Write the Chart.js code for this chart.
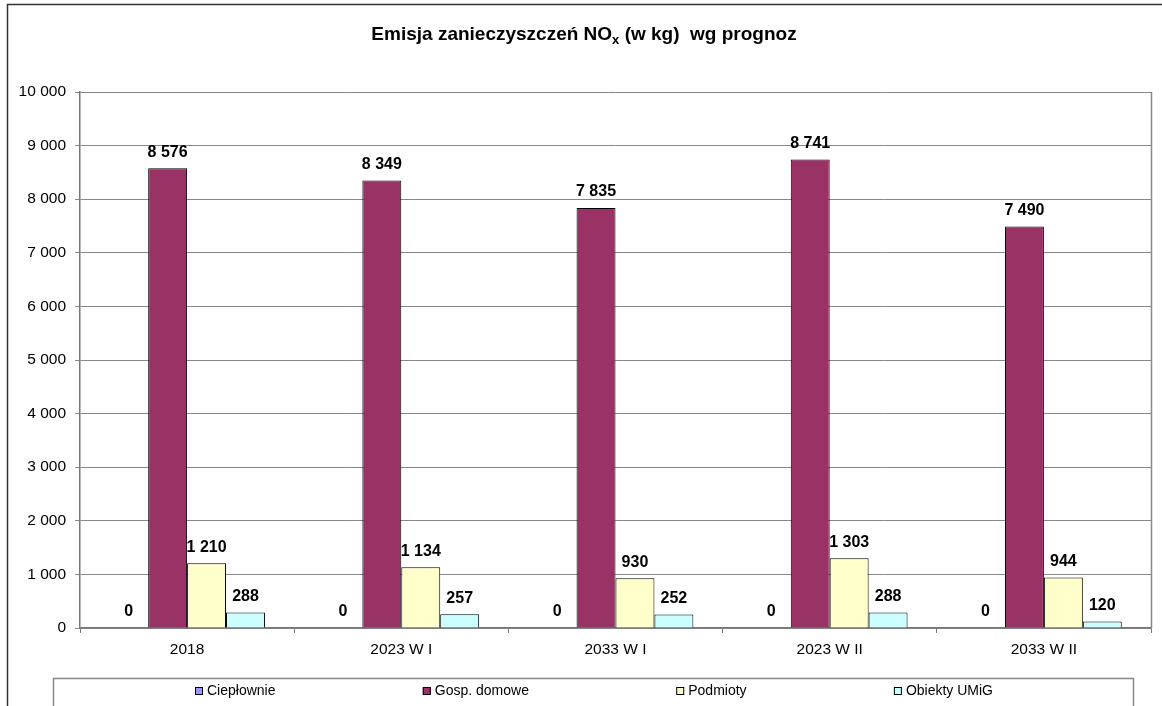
<!DOCTYPE html>
<html>
<head>
<meta charset="utf-8">
<script src="https://cdn.jsdelivr.net/npm/chart.js@4"></script>
<style>
    body { margin: 0; background: #fff; }
    #wrap { width: 1162px; height: 706px; }
</style>
</head>
<body>
<div id="wrap"><canvas id="g_nox" width="1162" height="706"></canvas></div>
<script>
// donnees
const categories = ["2018", "2023 W I", "2033 W I", "2023 W II", "2033 W II"];
const cieplownie = [0, 0, 0, 0, 0];
const gospDomowe = [8576, 8349, 7835, 8741, 7490];
const podmioty = [1210, 1134, 930, 1303, 944];
const obiektyUMiG = [288, 257, 252, 288, 120];
const yTicks = [0, 1000, 2000, 3000, 4000, 5000, 6000, 7000, 8000, 9000, 10000];

const police = "'Liberation Sans', Arial, sans-serif";

function formatNombre(v) {
    return String(v).replace(/\B(?=(\d{3})+(?!\d))/g, " ");
}

// fond blanc + cadre exterieur + bord droit de la zone du graphe
const cadre = {
    id: "cadre",
    beforeDraw(chart) {
        const ctx = chart.ctx;
        ctx.save();
        ctx.fillStyle = "#fff";
        ctx.fillRect(0, 0, chart.width, chart.height);
        ctx.strokeStyle = "#333";
        ctx.lineWidth = 1.5;
        ctx.beginPath();
        ctx.moveTo(7.5, chart.height);
        ctx.lineTo(7.5, 4.5);
        ctx.lineTo(chart.width, 4.5);
        ctx.stroke();
        ctx.restore();
    },
    afterDraw(chart) {
        const ctx = chart.ctx;
        const a = chart.chartArea;
        ctx.save();
        ctx.strokeStyle = "#888";
        ctx.lineWidth = 1.5;
        ctx.beginPath();
        ctx.moveTo(a.right + 0.5, a.top);
        ctx.lineTo(a.right + 0.5, a.bottom);
        ctx.stroke();
        ctx.restore();
    }
};

// titre avec l'indice x
const titre = {
    id: "titre",
    afterDraw(chart) {
        const ctx = chart.ctx;
        const p1 = "Emisja zanieczyszczeń NO";
        const sub = "x";
        const p2 = " (w kg)  wg prognoz";
        ctx.save();
        ctx.fillStyle = "#000";
        ctx.textBaseline = "alphabetic";
        ctx.font = "bold 19px " + police;
        const w1 = ctx.measureText(p1).width;
        const w3 = ctx.measureText(p2).width;
        ctx.font = "bold 13px " + police;
        const w2 = ctx.measureText(sub).width;
        let x = 584 - (w1 + w2 + w3) / 2;
        const y = 40;
        ctx.font = "bold 19px " + police;
        ctx.fillText(p1, x, y);
        x += w1;
        ctx.font = "bold 13px " + police;
        ctx.fillText(sub, x, y + 4);
        x += w2;
        ctx.font = "bold 19px " + police;
        ctx.fillText(p2, x, y);
        ctx.restore();
    }
};

// etiquettes de valeurs au dessus des barres
const etiquettes = {
    id: "etiquettes",
    afterDatasetsDraw(chart) {
        const ctx = chart.ctx;
        ctx.save();
        ctx.font = "bold 16px " + police;
        ctx.fillStyle = "#000";
        ctx.textAlign = "center";
        ctx.textBaseline = "middle";
        chart.data.datasets.forEach(function(ds, i) {
            const meta = chart.getDatasetMeta(i);
            meta.data.forEach(function(bar, j) {
                ctx.fillText(formatNombre(ds.data[j]), bar.x, bar.y - 16);
            });
        });
        ctx.restore();
    }
};

// legende dans un cadre en bas
const legende = {
    id: "legende",
    afterDraw(chart) {
        const ctx = chart.ctx;
        ctx.save();
        ctx.strokeStyle = "#888";
        ctx.lineWidth = 1.5;
        ctx.strokeRect(53.5, 678.5, 1080, 60);
        ctx.font = "14px " + police;
        const items = chart.data.datasets.map(function(ds) {
            return { label: ds.label, color: ds.backgroundColor, w: 12 + ctx.measureText(ds.label).width };
        });
        let total = 0;
        items.forEach(function(it) { total += it.w; });
        // les items vont de x=195 a x=993
        const gap = (798 - total) / (items.length - 1);
        let x = 195;
        const y = 691;
        items.forEach(function(it) {
            ctx.fillStyle = it.color;
            ctx.fillRect(x, y - 4, 8, 8);
            ctx.strokeStyle = "#000";
            ctx.lineWidth = 1;
            ctx.strokeRect(x + 0.5, y - 3.5, 7, 7);
            ctx.fillStyle = "#000";
            ctx.textBaseline = "middle";
            ctx.fillText(it.label, x + 12, y);
            x += it.w + gap;
        });
        ctx.restore();
    }
};

function graphNox() {
    const ctx = document.getElementById("g_nox").getContext("2d");
    let conData = {
        labels: categories,
        datasets: [
            { label: "Ciepłownie", backgroundColor: "#9999FF", data: cieplownie },
            { label: "Gosp. domowe", backgroundColor: "#993366", data: gospDomowe },
            { label: "Podmioty", backgroundColor: "#FFFFCC", data: podmioty },
            { label: "Obiekty UMiG", backgroundColor: "#CCFFFF", data: obiektyUMiG }
        ]
    };
    conData.datasets.forEach(function(ds) {
        ds.borderColor = "#000";
        ds.borderWidth = 1;
        ds.barPercentage = 1;
        ds.categoryPercentage = 0.727;
    });
    let options = {
        responsive: false,
        animation: false,
        layout: { padding: { top: 92, right: 11, left: 0, bottom: 0 } },
        plugins: {
            legend: { display: false },
            title: { display: false },
            tooltip: { enabled: false }
        },
        scales: {
            x: {
                offset: true,
                grid: { drawOnChartArea: false, drawTicks: true, tickLength: 5, color: "#777" },
                border: { color: "#777", width: 1.5 },
                ticks: { color: "#000", font: { family: police, size: 15.5 }, padding: 7, maxRotation: 0 },
                afterFit(scale) { scale.height = 78; }
            },
            y: {
                min: 0,
                max: 10000,
                afterBuildTicks(scale) {
                    scale.ticks = yTicks.map(function(v) { return { value: v }; });
                },
                grid: { color: "#888", lineWidth: 1, tickLength: 5 },
                border: { color: "#777", width: 1.5 },
                ticks: {
                    color: "#000",
                    font: { family: police, size: 15.5 },
                    padding: 9,
                    callback: function(v) { return formatNombre(v); }
                },
                afterFit(scale) { scale.width = 80; }
            }
        }
    };
    const config = {
        type: "bar",
        data: conData,
        options: options,
        plugins: [cadre, titre, etiquettes, legende]
    };
    const noxChart = new Chart(ctx, config);
}

window.addEventListener('load', () => {
    graphNox();
});
</script>
</body>
</html>
